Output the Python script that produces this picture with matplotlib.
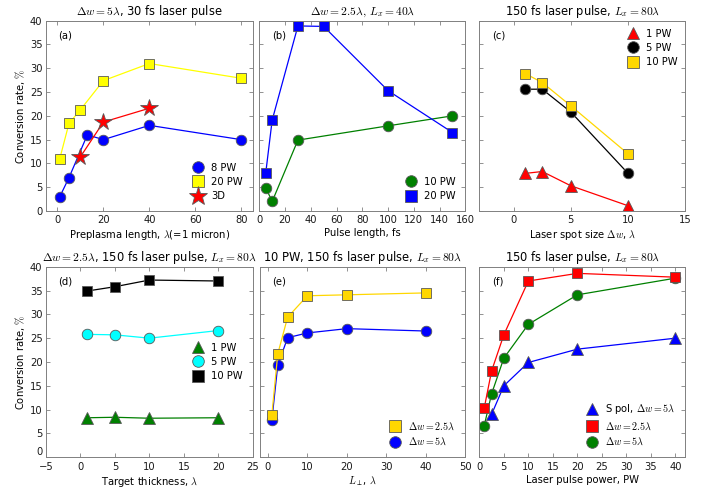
import matplotlib
matplotlib.use("Agg")
import matplotlib.pyplot as plt
from matplotlib.lines import Line2D

plt.rcParams.update({
    "font.family": ["DejaVu Sans"],
    "mathtext.fontset": "cm",
    "font.size": 7.2,
    "axes.linewidth": 0.7,
    "axes.edgecolor": "0.5",
    "xtick.direction": "in",
    "ytick.direction": "in",
    "xtick.top": True,
    "ytick.right": True,
    "xtick.major.size": 3,
    "ytick.major.size": 3,
    "xtick.major.width": 0.6,
    "ytick.major.width": 0.6,
    "xtick.color": "0.5",
    "ytick.color": "0.5",
    "xtick.labelcolor": "0.1",
    "ytick.labelcolor": "0.1",
    "xtick.major.pad": 3.2,
    "ytick.major.pad": 2.5,
})

# (a) conversion rate vs preplasma length
a_len_8 = [1, 5, 13, 20, 40, 80]
a_8pw = [3, 7, 16, 15, 18, 15]
a_len_20 = [1, 5, 10, 20, 40, 80]
a_20pw = [11, 18.4, 21.3, 27.4, 31, 27.9]
a_len_3d = [10, 20, 40]
a_3d = [11.4, 18.7, 21.6]

# (b) conversion rate vs pulse length
b_len = [5, 10, 30, 50, 100, 150]
b_20pw = [8, 19.1, 38.9, 38.8, 25.3, 16.5]
b_len_10 = [5, 10, 30, 100, 150]
b_10pw = [4.9, 2.0, 14.9, 17.9, 20.0]

# (c) conversion rate vs laser spot size
c_spot = [1, 2.5, 5, 10]
c_1pw = [7.9, 8.3, 5.3, 1.1]
c_5pw = [25.6, 25.6, 20.8, 7.9]
c_10pw = [28.9, 27.0, 22.1, 12.0]

# (d) conversion rate vs target thickness
d_thick = [1, 5, 10, 20]
d_1pw = [8.3, 8.4, 8.2, 8.3]
d_5pw = [25.8, 25.7, 25.0, 26.6]
d_10pw = [34.9, 35.8, 37.2, 37.0]

# (e) conversion rate vs transverse size
e_lperp = [1, 2.5, 5, 10, 20, 40]
e_dw25 = [8.9, 21.7, 29.4, 33.9, 34.1, 34.5]
e_dw5 = [7.8, 19.3, 25.1, 26.1, 27.0, 26.5]

# (f) conversion rate vs laser power
f_pow_s = [2.5, 5, 10, 20, 40]
f_spol = [9.0, 15.0, 19.9, 22.7, 25.0]
f_pow = [1, 2.5, 5, 10, 20, 40]
f_dw25 = [10.3, 18.1, 25.7, 37.0, 38.6, 37.8]
f_dw5 = [6.6, 13.3, 20.8, 27.9, 34.1, 37.6]

W, H = 714, 492
fig = plt.figure(figsize=(W / 100, H / 100), dpi=100)


def box(x0, x1, ytop, ybot):
    return [x0 / W, 1 - ybot / H, (x1 - x0) / W, (ybot - ytop) / H]


ax_a = fig.add_axes(box(46, 252.7, 20.7, 211))
ax_b = fig.add_axes(box(259.3, 465.3, 20.7, 211))
ax_c = fig.add_axes(box(479.3, 685.3, 20.7, 211))
ax_d = fig.add_axes(box(46, 252.7, 266.7, 457.3))
ax_e = fig.add_axes(box(260, 465.3, 266.7, 457.3))
ax_f = fig.add_axes(box(479.3, 685.3, 266.7, 457.3))

MEC = "0.35"
MEW = 0.6
LW = 0.9


def series(ax, x, y, color, marker, label, ms=7.6, lc=None):
    ax.plot(x, y, color=lc or color, lw=LW, marker=marker, ms=ms,
            mfc=color, mec=MEC, mew=MEW)
    # legend entry shows the marker only
    return Line2D([], [], ls="none", marker=marker, ms=ms * 1.1, mfc=color,
                  mec=MEC, mew=MEW, label=label)


def leg(ax, handles, loc, **kw):
    ax.legend(handles=handles, loc=loc, frameon=False, numpoints=1,
              handlelength=1.2, handletextpad=0.7, labelspacing=0.42,
              borderaxespad=0.6, fontsize=7.2, **kw)


for ax in (ax_a, ax_b, ax_c, ax_d, ax_e, ax_f):
    ax.set_ylim(0, 40)
    ax.set_yticks(range(0, 41, 5))
for ax in (ax_b, ax_c, ax_e, ax_f):
    ax.tick_params(labelleft=False)
for ax in (ax_a, ax_d):
    ax.set_ylabel(r"Conversion rate, $\%$", labelpad=2)

TS = 8.3

# (a)
h1 = series(ax_a, a_len_8, a_8pw, "#0000ff", "o", "8 PW")
h2 = series(ax_a, a_len_20, a_20pw, "#ffff00", "s", "20 PW")
h3 = series(ax_a, a_len_3d, a_3d, "#ff0000", "*", "3D", ms=13)
ax_a.set_xlim(-5, 85)
ax_a.set_xticks([0, 20, 40, 60, 80])
ax_a.set_xlabel(r"Preplasma length, $\lambda$(=1 micron)", labelpad=2)
ax_a.set_title(r"$\Delta w = 5\lambda$, 30 fs laser pulse", fontsize=TS, pad=4)
leg(ax_a, [h1, h2, h3], "lower right")

# (b)
h1 = series(ax_b, b_len_10, b_10pw, "#008000", "o", "10 PW")
h2 = series(ax_b, b_len, b_20pw, "#0000ff", "s", "20 PW")
ax_b.set_xlim(0, 160)
ax_b.set_xticks(range(0, 161, 20))
ax_b.set_xlabel("Pulse length, fs", labelpad=2)
ax_b.set_title(r"$\Delta w = 2.5\lambda,\, L_x = 40\lambda$", fontsize=TS, pad=4)
leg(ax_b, [h1, h2], "lower right")

# (c)
h1 = series(ax_c, c_spot, c_1pw, "#ff0000", "^", "1 PW", ms=8)
h2 = series(ax_c, c_spot, c_5pw, "#000000", "o", "5 PW")
h3 = series(ax_c, c_spot, c_10pw, "#ffd700", "s", "10 PW")
ax_c.set_xlim(-3, 15)
ax_c.set_xticks([0, 5, 10, 15])
ax_c.set_xlabel(r"Laser spot size $\Delta w$, $\lambda$", labelpad=2)
ax_c.set_title(r"150 fs laser pulse, $L_x = 80\lambda$", fontsize=TS, pad=4)
leg(ax_c, [h1, h2, h3], "upper right", borderpad=0.2)

# (d)
h1 = series(ax_d, d_thick, d_1pw, "#008000", "^", "1 PW", ms=8)
h2 = series(ax_d, d_thick, d_5pw, "#00ffff", "o", "5 PW")
h3 = series(ax_d, d_thick, d_10pw, "#000000", "s", "10 PW")
ax_d.set_xlim(-5, 25)
ax_d.set_xticks(range(-5, 26, 5))
ax_d.set_xticklabels(["\u22125", "0", "5", "10", "15", "20", "25"])
ax_d.set_xlabel(r"Target thickness, $\lambda$", labelpad=2)
ax_d.set_title(r"$\Delta w = 2.5\lambda$, 150 fs laser pulse, $L_x = 80\lambda$",
               fontsize=TS, pad=4)
leg(ax_d, [h1, h2, h3], "center right", bbox_to_anchor=(1.0, 0.5))
# keep the lowest y label clear of the first x label
ax_d.yaxis.get_major_ticks()[0].label1.set_va("bottom")

# (e)
h2 = series(ax_e, e_lperp, e_dw5, "#0000ff", "o", r"$\Delta w = 5\lambda$")
h1 = series(ax_e, e_lperp, e_dw25, "#ffd700", "s", r"$\Delta w = 2.5\lambda$")
ax_e.set_xlim(-2, 50)
ax_e.set_xticks(range(0, 51, 10))
ax_e.set_xlabel(r"$L_\perp$, $\lambda$", labelpad=2)
ax_e.set_title(r"10 PW, 150 fs laser pulse, $L_x = 80\lambda$", fontsize=TS, pad=4)
leg(ax_e, [h1, h2], "lower right")

# (f)
h1 = series(ax_f, f_pow_s, f_spol, "#0000ff", "^", r"S pol, $\Delta w = 5\lambda$", ms=8)
h3 = series(ax_f, f_pow, f_dw5, "#008000", "o", r"$\Delta w = 5\lambda$")
h2 = series(ax_f, f_pow, f_dw25, "#ff0000", "s", r"$\Delta w = 2.5\lambda$")
ax_f.set_xlim(0, 42)
ax_f.set_xticks(range(0, 41, 5))
ax_f.set_xlabel("Laser pulse power, PW", labelpad=2)
ax_f.set_title(r"150 fs laser pulse, $L_x = 80\lambda$", fontsize=TS, pad=4)
leg(ax_f, [h1, h2, h3], "lower right")

for ax, tag in zip((ax_a, ax_b, ax_c, ax_d, ax_e, ax_f), "abcdef"):
    ax.text(0.06, 0.95, f"({tag})", transform=ax.transAxes, ha="left", va="top",
            fontsize=7.2)

fig.savefig("out.png", dpi=100)
